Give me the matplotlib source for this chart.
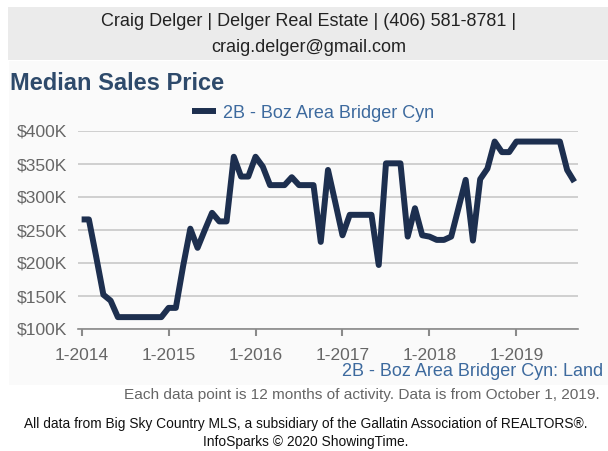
import matplotlib
matplotlib.use("Agg")
import matplotlib.pyplot as plt
from matplotlib.patches import Rectangle

plt.rcParams['font.family'] = ['Liberation Sans', 'DejaVu Sans']

# ---- data ----
series_name = "2B - Boz Area Bridger Cyn"
start_year = 2014
# monthly median sales price (in $K), Jan 2014 .. Sep 2019
prices_k = [
    266, 266, 210, 152, 143, 118, 118, 118, 118, 118, 118, 118,   # 2014
    132, 132, 195, 252, 223, 250, 276, 263, 263, 361, 331, 331,   # 2015
    361, 346, 318, 318, 318, 330, 318, 318, 318, 232, 341, 292,   # 2016
    242, 273, 273, 273, 273, 197, 351, 351, 351, 240, 283, 242,   # 2017
    240, 235, 235, 240, 283, 326, 234, 327, 343, 384, 368, 368,   # 2018
    384, 384, 384, 384, 384, 384, 384, 341, 323,                  # 2019
]
x_tick_labels = ["1-2014", "1-2015", "1-2016", "1-2017", "1-2018", "1-2019"]
y_ticks_k = [100, 150, 200, 250, 300, 350, 400]
y_tick_labels = ["$100K", "$150K", "$200K", "$250K", "$300K", "$350K", "$400K"]

W, H = 608, 451
fig = plt.figure(figsize=(W / 100, H / 100), dpi=100)
fig.patch.set_facecolor('white')

def fx(px):
    return px / W

def fy(py):
    return 1 - py / H

# header box
fig.add_artist(Rectangle((fx(8), fy(60)), fx(600), 53 / H, transform=fig.transFigure,
                         facecolor='#ebebeb', edgecolor='none', zorder=0))
# chart panel tint
fig.add_artist(Rectangle((fx(9), fy(385)), fx(599), (385 - 61) / H, transform=fig.transFigure,
                         facecolor='#fafafa', edgecolor='none', zorder=0))

fig.text(fx(309), fy(22), "Craig Delger | Delger Real Estate | (406) 581-8781 |",
         ha='center', va='center', fontsize=13, color='#222222')
fig.text(fx(309), fy(47), "craig.delger@gmail.com",
         ha='center', va='center', fontsize=13, color='#222222')

fig.text(fx(10), fy(83), "Median Sales Price", ha='left', va='center',
         fontsize=17, fontweight='bold', color='#2e4a6b')

ax = fig.add_axes([fx(78), fy(329), 500 / W, (329 - 131) / H])
ax.set_facecolor('none')
months = list(range(len(prices_k)))
line, = ax.plot(months, prices_k, color='#1d2f4f', lw=4.3, solid_joinstyle='round',
                solid_capstyle='butt', label=series_name, zorder=3, clip_on=False)

ax.set_xlim(-0.5, 68.5)
ax.set_ylim(100, 400)
ax.set_yticks(y_ticks_k)
ax.set_yticklabels(y_tick_labels)
ax.set_xticks([12 * i for i in range(len(x_tick_labels))])
ax.set_xticklabels(x_tick_labels)
ax.grid(axis='y', color='#c8c8c8', lw=1.2)
ax.set_axisbelow(True)
for s in ['top', 'right', 'left']:
    ax.spines[s].set_visible(False)
ax.spines['bottom'].set_color('#8a8a8a')
ax.spines['bottom'].set_linewidth(1.2)
ax.tick_params(axis='y', length=0, pad=8, labelsize=12.6, labelcolor='#666666')
ax.tick_params(axis='x', direction='out', length=5, width=1.5, color='#8a8a8a',
               pad=9, labelsize=12.5, labelcolor='#666666')

leg = ax.legend(handles=[line], loc='center', bbox_to_anchor=(fx(313), fy(113)),
                bbox_transform=fig.transFigure, frameon=False, fontsize=13,
                handlelength=1.3, handletextpad=0.4, labelcolor='#3d6a9e')

fig.text(fx(603), fy(371), "2B - Boz Area Bridger Cyn: Land", ha='right', va='center',
         fontsize=13, color='#3d6a9e')
fig.text(fx(600), fy(395),
         "Each data point is 12 months of activity. Data is from October 1, 2019.",
         ha='right', va='center', fontsize=11.1, color='#666666')
fig.text(fx(306), fy(424),
         "All data from Big Sky Country MLS, a subsidiary of the Gallatin Association of REALTORS®.",
         ha='center', va='center', fontsize=9.9, color='#111111')
fig.text(fx(306), fy(442), "InfoSparks © 2020 ShowingTime.",
         ha='center', va='center', fontsize=9.9, color='#111111')

fig.savefig("out.png", dpi=100, facecolor=fig.get_facecolor())
